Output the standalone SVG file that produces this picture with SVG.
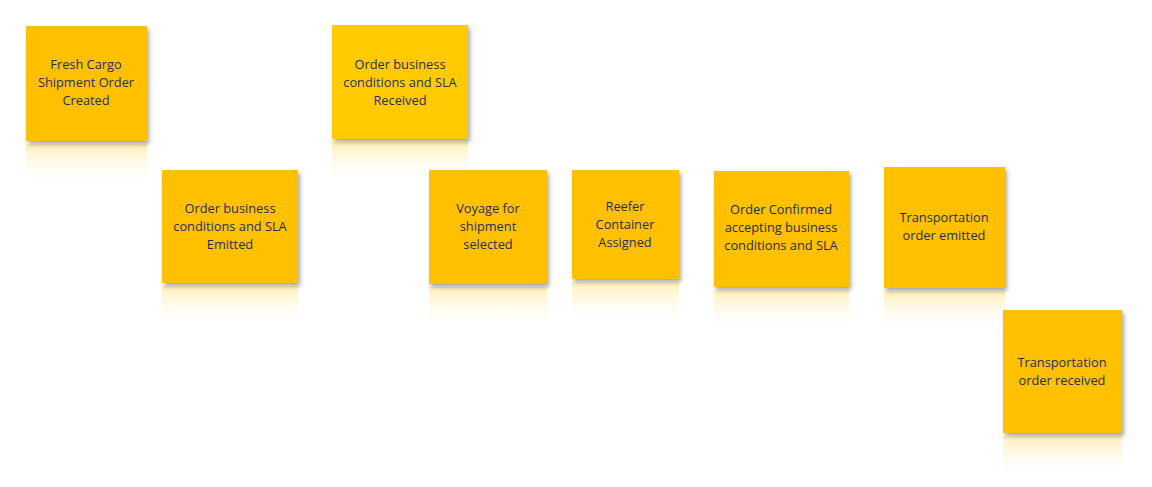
<svg xmlns="http://www.w3.org/2000/svg" width="1152" height="487" viewBox="0 0 1152 487">
<style>
.note{fill:#FFC000;filter:url(#sh)}
.note.y{fill:#FFCB05}
.refl{fill:url(#rg)}
.lbl{font-family:"Open Sans","Liberation Sans",sans-serif;font-size:12.8px;fill:#1F2F66;text-anchor:middle}
</style>
<defs>
<filter id="sh" x="-10%" y="-10%" width="125%" height="125%">
<feDropShadow dx="2" dy="3" stdDeviation="2" flood-color="#000" flood-opacity="0.35"/>
</filter>
<linearGradient id="rg" x1="0" y1="0" x2="0" y2="1">
<stop offset="0" stop-color="#FFD54A" stop-opacity="0.4"/>
<stop offset="0.5" stop-color="#FFE9A0" stop-opacity="0.15"/>
<stop offset="1" stop-color="#FFFFFF" stop-opacity="0"/>
</linearGradient>
</defs>
<g id="connectors"/>
<g id="n1">
<rect class="refl" x="26" y="144" width="121" height="45"/>
<rect class="note" x="26" y="26" width="121" height="115"/>
<text class="lbl"><tspan x="86" y="69">Fresh Cargo</tspan><tspan x="86" y="87">Shipment Order</tspan><tspan x="86" y="105">Created</tspan></text>
</g>
<g id="n2">
<rect class="refl" x="332" y="142" width="136" height="45"/>
<rect class="note y" x="332" y="25" width="136" height="114"/>
<text class="lbl"><tspan x="400" y="69">Order business</tspan><tspan x="400" y="87">conditions and SLA</tspan><tspan x="400" y="105">Received</tspan></text>
</g>
<g id="n3">
<rect class="refl" x="162" y="286" width="136" height="45"/>
<rect class="note" x="162" y="170" width="136" height="113"/>
<text class="lbl"><tspan x="230" y="213">Order business</tspan><tspan x="230" y="231">conditions and SLA</tspan><tspan x="230" y="249">Emitted</tspan></text>
</g>
<g id="n4">
<rect class="refl" x="429" y="287" width="118" height="45"/>
<rect class="note" x="429" y="170" width="118" height="114"/>
<text class="lbl"><tspan x="488" y="213">Voyage for</tspan><tspan x="488" y="231">shipment</tspan><tspan x="488" y="249">selected</tspan></text>
</g>
<g id="n5">
<rect class="refl" x="572" y="282" width="107" height="45"/>
<rect class="note" x="572" y="170" width="107" height="109"/>
<text class="lbl"><tspan x="625" y="211">Reefer</tspan><tspan x="625" y="229">Container</tspan><tspan x="625" y="247">Assigned</tspan></text>
</g>
<g id="n6">
<rect class="refl" x="714" y="290" width="135" height="45"/>
<rect class="note" x="714" y="171" width="135" height="116"/>
<text class="lbl"><tspan x="781" y="214">Order Confirmed</tspan><tspan x="781" y="232">accepting business</tspan><tspan x="781" y="250">conditions and SLA</tspan></text>
</g>
<g id="n7">
<rect class="refl" x="884" y="291" width="121" height="45"/>
<rect class="note" x="884" y="167" width="121" height="121"/>
<text class="lbl"><tspan x="944" y="222">Transportation</tspan><tspan x="944" y="240">order emitted</tspan></text>
</g>
<g id="n8">
<rect class="refl" x="1003" y="436" width="119" height="45"/>
<rect class="note" x="1003" y="310" width="119" height="123"/>
<text class="lbl"><tspan x="1062" y="367">Transportation</tspan><tspan x="1062" y="385">order received</tspan></text>
</g>
</svg>
